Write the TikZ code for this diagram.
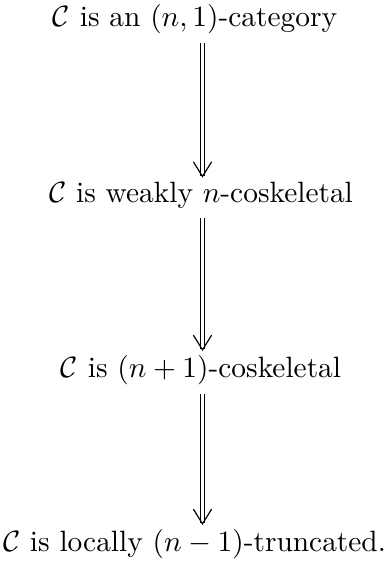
\documentclass[tikz,border=0pt]{standalone}
\usetikzlibrary{arrows.meta}
\newlength\reflen
\newlength\pxu
\settowidth{\reflen}{$\mathcal{C}$ is locally $(n-1)$-truncated.}
\setlength\pxu{\dimexpr\reflen/383\relax}
\begin{document}
\begin{tikzpicture}[x=\pxu,y=-\pxu,
  lab/.style={anchor=base,inner sep=0pt,outer sep=0pt},
  impl/.style={double,double distance=3.3\pxu,line width=1\pxu,
    -{Straight Barb[length=5pt,width=6.2pt,line width=0.4pt]},shorten <=#1}]
\useasboundingbox (0,0) rectangle (389,566);
\node[lab] (A) at (195,26) {$\mathcal{C}$ is an $(n,1)$-category};
\node[lab] (B) at (201,202) {$\mathcal{C}$ is weakly $n$-coskeletal};
\node[lab] (C) at (201,377) {$\mathcal{C}$ is $(n+1)$-coskeletal};
\node[lab] (D) at (194.5,551) {$\mathcal{C}$ is locally $(n-1)$-truncated.};
\coordinate (ax) at (202.5,0);
\draw[impl=10\pxu,shorten >=4\pxu] (ax |- A.south) -- (ax |- B.north);
\draw[impl=10\pxu,shorten >=4\pxu] (ax |- B.south) -- (ax |- C.north);
\draw[impl=10\pxu,shorten >=4\pxu] (ax |- C.south) -- (ax |- D.north);
\end{tikzpicture}
\end{document}
